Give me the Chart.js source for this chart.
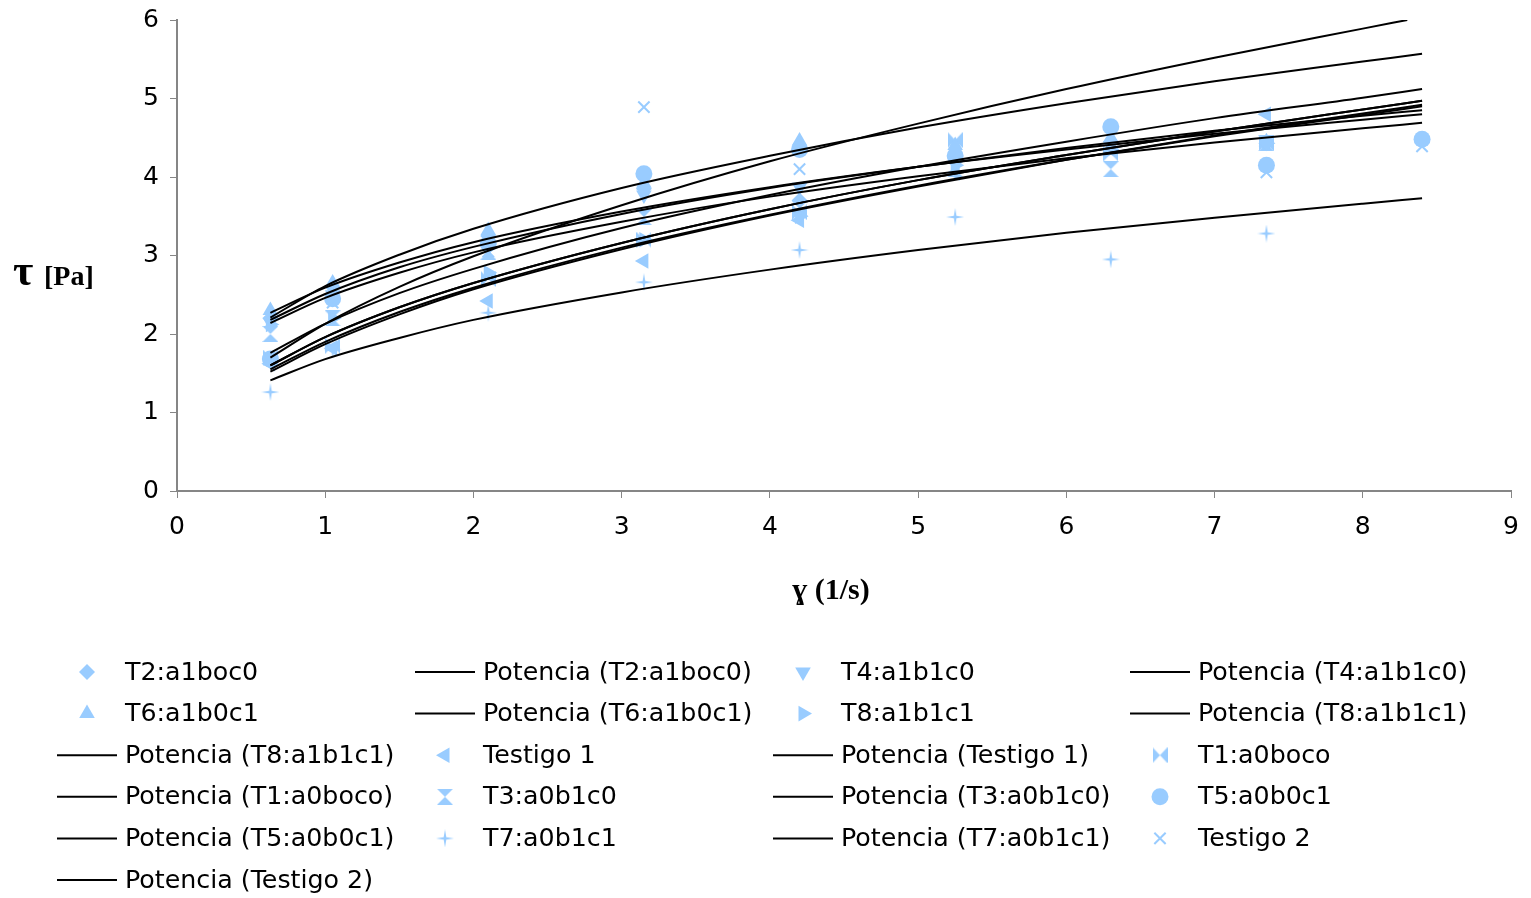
<!DOCTYPE html>
<html>
<head>
<meta charset="utf-8">
<script src="https://cdn.jsdelivr.net/npm/chart.js@4/dist/chart.umd.min.js"></script>
<style>
  body { margin: 0; background: #fff; }
  #wrap { width: 1531px; height: 898px; }
</style>
</head>
<body>
<div id="wrap"><canvas id="grafico" width="1531" height="898"></canvas></div>
<script>
// velocidades de corte (1/s) medidas
var xPuntos = [0.63, 1.05, 2.1, 3.15, 4.2, 5.25, 6.3, 7.35, 8.4];

// esfuerzo de corte (Pa) de cada tratamiento
var t2 = [2.20, 2.60, 3.25, 3.85, 3.70, 4.20, 4.45, 4.43];
var t4 = [2.15, 2.50, 3.10, 3.77, 3.87, 4.20, 4.40, 4.45];
var t6 = [2.30, 2.65, 3.32, 3.92, 4.46, 4.40, 4.50, 4.45];
var t8 = [2.12, 2.20, 2.78, 3.20, 3.50, 4.15, 4.35, 4.43];
var testigo1 = [1.62, 1.82, 2.42, 2.93, 3.45, 4.05, 4.35, 4.80];
var t1 = [1.70, 1.85, 2.70, 3.20, 3.55, 4.47, 4.30, 4.43];
var t3 = [2.00, 2.20, 3.05, 3.49, 3.60, 4.10, 4.10, 4.43];
var t5 = [1.68, 2.45, 3.15, 4.04, 4.35, 4.27, 4.64, 4.15, 4.48];
var t7 = [1.26, 1.80, 2.27, 2.66, 3.07, 3.49, 2.95, 3.28];
var testigo2 = [2.15, 2.40, 3.05, 4.89, 4.10, 4.30, 4.40, 4.06, 4.39];

// lineas de tendencia (potencia)
var xTend = [0.63, 1, 1.5, 2, 3, 4, 5, 6, 7, 8, 8.4];
var xTendCorta = [0.63, 1, 1.5, 2, 3, 4, 5, 6, 7, 8, 8.3];
var potT2 = [2.18, 2.51, 2.85, 3.11, 3.53, 3.86, 4.13, 4.37, 4.59, 4.78, 4.85];
var potT4 = [2.27, 2.59, 2.91, 3.17, 3.56, 3.87, 4.13, 4.35, 4.55, 4.73, 4.80];
var potT6 = [2.21, 2.61, 3.01, 3.34, 3.86, 4.27, 4.63, 4.94, 5.22, 5.47, 5.57];
var potT8 = [1.60, 1.96, 2.34, 2.65, 3.16, 3.59, 3.96, 4.28, 4.58, 4.86, 4.97];
var potTestigo1 = [1.52, 1.87, 2.25, 2.57, 3.08, 3.51, 3.88, 4.22, 4.53, 4.81, 4.92];
var potT1 = [1.70, 2.13, 2.60, 2.99, 3.64, 4.20, 4.68, 5.12, 5.52, 5.89, 6.00];
var potT3 = [2.14, 2.46, 2.78, 3.04, 3.43, 3.75, 4.01, 4.24, 4.44, 4.62, 4.69];
var potT5 = [1.76, 2.13, 2.52, 2.83, 3.35, 3.77, 4.13, 4.45, 4.75, 5.01, 5.12];
var potT7 = [1.41, 1.68, 1.95, 2.18, 2.53, 2.82, 3.07, 3.29, 3.48, 3.66, 3.73];
var potTestigo2 = [1.55, 1.90, 2.28, 2.59, 3.10, 3.52, 3.89, 4.22, 4.52, 4.79, 4.90];

var azul = '#99ccff';

function pares(xs, ys) {
    var out = [];
    for (var i = 0; i < ys.length; i++) {
        if (ys[i] !== null) out.push({x: xs[i], y: ys[i]});
    }
    return out;
}

// marcadores que Chart.js no trae
function icono(w, h, dibujar) {
    var c = document.createElement('canvas');
    c.width = w; c.height = h;
    var g = c.getContext('2d');
    g.fillStyle = azul;
    g.beginPath();
    dibujar(g, w, h);
    g.fill();
    return c;
}
var corbata = icono(15, 16, function(g, w, h) {
    g.moveTo(0, 0); g.lineTo(w / 2, h / 2); g.lineTo(0, h); g.closePath();
    g.moveTo(w, 0); g.lineTo(w / 2, h / 2); g.lineTo(w, h); g.closePath();
});
var reloj = icono(16, 16, function(g, w, h) {
    g.moveTo(0, 0); g.lineTo(w, 0); g.lineTo(w / 2, h / 2); g.closePath();
    g.moveTo(0, h); g.lineTo(w, h); g.lineTo(w / 2, h / 2); g.closePath();
});
var estrella = icono(18, 18, function(g, w, h) {
    g.moveTo(9, 0); g.lineTo(10.3, 7.7); g.lineTo(18, 9); g.lineTo(10.3, 10.3);
    g.lineTo(9, 18); g.lineTo(7.7, 10.3); g.lineTo(0, 9); g.lineTo(7.7, 7.7);
    g.closePath();
});

function serie(nombre, ys, estilo, rot, radio, borde) {
    return {
        type: 'scatter',
        label: nombre,
        data: pares(xPuntos, ys),
        pointStyle: estilo,
        rotation: rot || 0,
        pointRadius: radio || 8,
        pointHoverRadius: radio || 8,
        backgroundColor: azul,
        borderColor: azul,
        borderWidth: borde || 0,
        showLine: false,
        order: 2
    };
}

function tendencia(nombre, ys, xs) {
    return {
        type: 'line',
        label: 'Potencia (' + nombre + ')',
        data: pares(xs || xTend, ys),
        borderColor: '#000',
        borderWidth: 2,
        pointRadius: 0,
        fill: false,
        showLine: true,
        cubicInterpolationMode: 'monotone',
        order: 1
    };
}

var datasets = [
    serie('T2:a1boc0', t2, 'rectRot', 0, 8),
    tendencia('T2:a1boc0', potT2),
    serie('T4:a1b1c0', t4, 'triangle', 180, 9),
    tendencia('T4:a1b1c0', potT4),
    serie('T6:a1b0c1', t6, 'triangle', 0, 9),
    tendencia('T6:a1b0c1', potT6),
    serie('T8:a1b1c1', t8, 'triangle', 90, 9),
    tendencia('T8:a1b1c1', potT8),
    tendencia('T8:a1b1c1', potT8),
    serie('Testigo 1', testigo1, 'triangle', -90, 9),
    tendencia('Testigo 1', potTestigo1),
    serie('T1:a0boco', t1, corbata),
    tendencia('T1:a0boco', potT1, xTendCorta),
    serie('T3:a0b1c0', t3, reloj),
    tendencia('T3:a0b1c0', potT3),
    serie('T5:a0b0c1', t5, 'circle', 0, 8.5),
    tendencia('T5:a0b0c1', potT5),
    serie('T7:a0b1c1', t7, estrella),
    tendencia('T7:a0b1c1', potT7),
    serie('Testigo 2', testigo2, 'crossRot', 0, 8, 2),
    tendencia('Testigo 2', potTestigo2)
];

var fuente = "'DejaVu Sans', sans-serif";

// leyenda en cuadricula de 4 columnas y titulos horizontales
var leyendaTitulos = {
    id: 'leyendaTitulos',
    afterDraw: function(chart) {
        var ctx = chart.ctx;
        ctx.save();
        ctx.fillStyle = '#000';
        ctx.textBaseline = 'alphabetic';
        ctx.textAlign = 'left';
        ctx.font = "bold 44px 'Liberation Serif', 'Times New Roman', serif";
        ctx.fillText('τ', 13, 285);
        ctx.font = "bold 28px 'Liberation Serif', 'Times New Roman', serif";
        ctx.fillText('[Pa]', 44, 285);
        ctx.textBaseline = 'middle';
        ctx.textAlign = 'center';
        ctx.font = "bold 30px 'Liberation Serif', 'Times New Roman', serif";
        ctx.fillText('ɣ (1/s)', 831, 591);

        var columnas = [57, 415, 773, 1130];
        var filaY0 = 672, filaDy = 41.6;
        ctx.font = '25.3px ' + fuente;
        ctx.textAlign = 'left';
        chart.data.datasets.forEach(function(ds, i) {
            var cx = columnas[i % 4];
            var cy = filaY0 + Math.floor(i / 4) * filaDy;
            if (ds.type === 'line') {
                ctx.strokeStyle = '#000';
                ctx.lineWidth = 2;
                ctx.beginPath();
                ctx.moveTo(cx, cy);
                ctx.lineTo(cx + 60, cy);
                ctx.stroke();
            } else {
                ctx.fillStyle = azul;
                ctx.strokeStyle = azul;
                Chart.helpers.drawPoint(ctx, {
                    pointStyle: ds.pointStyle,
                    rotation: ds.rotation,
                    radius: ds.pointRadius,
                    borderWidth: ds.borderWidth
                }, cx + 30, cy);
            }
            ctx.fillStyle = '#000';
            ctx.fillText(ds.label, cx + 68, cy + 1);
        });
        ctx.restore();
    }
};

var grafico = new Chart(document.getElementById('grafico'), {
    type: 'scatter',
    data: { datasets: datasets },
    options: {
        responsive: false,
        animation: false,
        layout: { padding: { top: 20, right: 20, left: 0, bottom: 0 } },
        plugins: {
            legend: { display: false },
            tooltip: { enabled: false }
        },
        scales: {
            x: {
                type: 'linear',
                min: 0, max: 9,
                ticks: { stepSize: 1, color: '#000', font: { family: fuente, size: 25 }, padding: 14 },
                grid: { drawOnChartArea: false, drawTicks: true, tickLength: 7, color: '#868686' },
                border: { color: '#868686', width: 2 },
                afterFit: function(s) { s.height = 407; s.paddingLeft = 0; s.paddingRight = 0; }
            },
            y: {
                min: 0, max: 6,
                ticks: { stepSize: 1, color: '#000', font: { family: fuente, size: 25 }, padding: 11 },
                grid: { drawOnChartArea: false, drawTicks: true, tickLength: 7, color: '#868686' },
                border: { color: '#868686', width: 2 },
                afterFit: function(s) { s.width = 177; s.paddingTop = 0; s.paddingBottom = 0; }
            }
        }
    },
    plugins: [leyendaTitulos]
});
</script>
</body>
</html>
